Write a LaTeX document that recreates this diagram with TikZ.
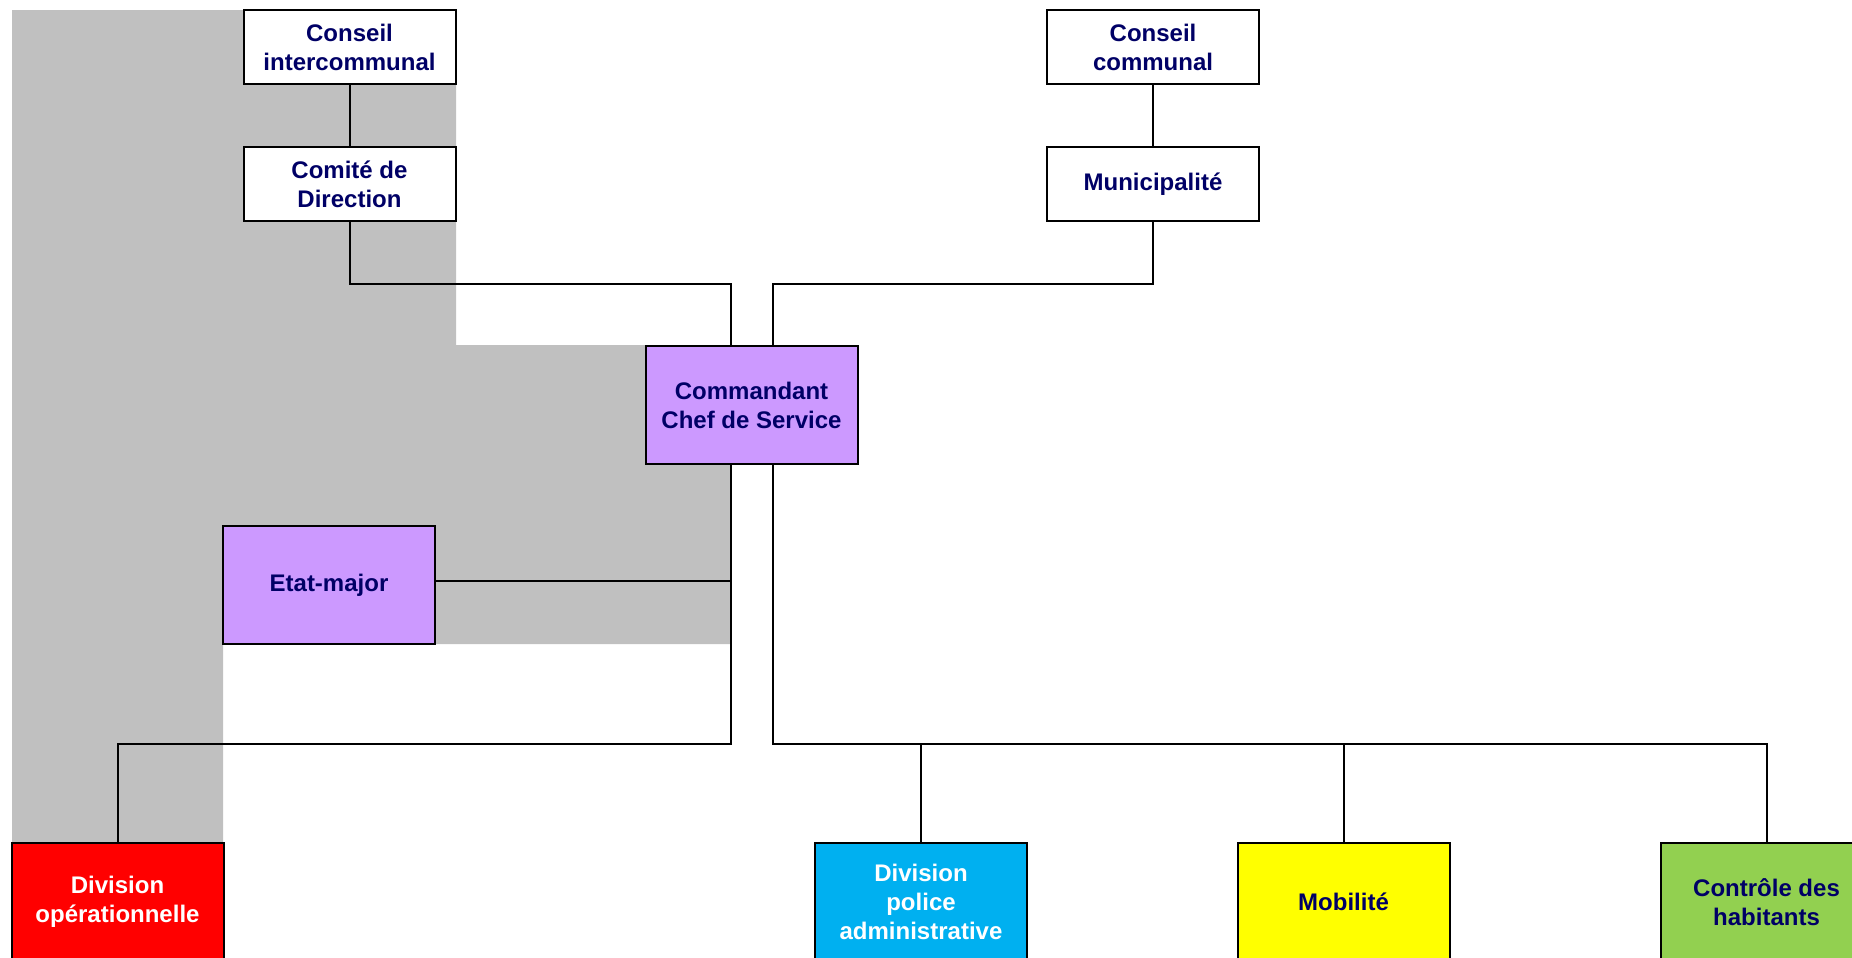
\documentclass[tikz,border=0pt]{standalone}
\usepackage{fontspec}
\setmainfont{Liberation Sans}
\usetikzlibrary{calc}
\definecolor{navy}{RGB}{0,0,102}
\definecolor{shadegrey}{RGB}{192,192,192}
\definecolor{lilac}{RGB}{204,153,255}
\definecolor{skyblue}{RGB}{0,176,240}
\definecolor{leafgreen}{RGB}{146,208,80}
\definecolor{lemon}{RGB}{255,255,0}
\tikzset{
  unit/.style={draw, line width=1pt, fill=white, inner sep=0pt, align=center,
    text=navy, font=\fontsize{12}{14.5}\selectfont\bfseries,
    minimum width=106pt, minimum height=37pt},
  bigunit/.style={unit, minimum height=59pt},
  link/.style={line width=1pt}
}

\begin{document}
\begin{tikzpicture}[x=0.5pt,y=-0.5pt]
			%%%%% START %%%%%
			\useasboundingbox (0,0) rectangle (1852,958);
			
			\fill[shadegrey] (12,10) -- (456,10) -- (456,345) -- (731,345) -- (731,644) -- (223,644) -- (223,843) -- (12,843) -- cycle;
			
			\node[unit] (ci) at (349.5,47) {Conseil\\intercommunal};
			\node[unit] (cd) at (349.5,184) {Comité de\\Direction};
			\node[unit] (cc) at (1153,47) {Conseil\\communal};
			\node[unit] (mun) at (1153,184) {Municipalité};
			
			\node[bigunit, fill=lilac] (cmd) at (751.5,405) {Commandant\\Chef de Service};
			\node[bigunit, fill=lilac] (em) at (329,585) {Etat-major};
			
			\node[bigunit, fill=red, text=white] (divop) at (117.5,902) {Division\\opérationnelle};
			\node[bigunit, fill=skyblue, text=white] (pol) at (921,902) {Division\\police\\administrative};
			\node[bigunit, fill=lemon] (mob) at (1343.5,902) {Mobilité};
			\node[bigunit, fill=leafgreen] (ctrl) at (1766.5,902) {Contrôle des\\habitants};
			
			\draw[link] (ci) -- (cd);
			\draw[link] (cc) -- (mun);
			\draw[link] (cd.south) -- ++(0,62) -| ([xshift=-10.25pt]cmd.north);
			\draw[link] (mun.south) -- ++(0,62) -| ([xshift=10.75pt]cmd.north);
			
			\draw[link] ([xshift=-10.25pt]cmd.south) -- ++(0,279) -| (divop.north);
			\draw[link] ([yshift=2pt]em.east) -- ++(296,0);
			
			\draw[link] ([xshift=10.75pt]cmd.south) -- ++(0,279) coordinate (busR) -| (ctrl.north);
			\foreach \n in {pol,mob}
				\draw[link] (\n.north) -- (\n.north |- busR);
			
			%%%%% END %%%%%
\end{tikzpicture}
\end{document}
